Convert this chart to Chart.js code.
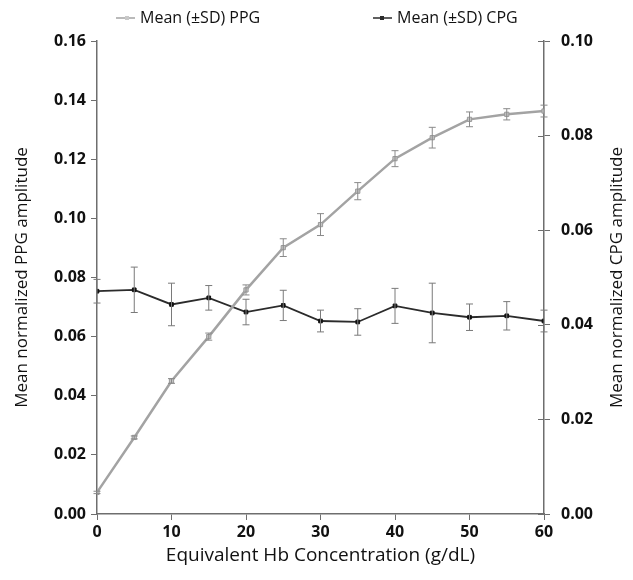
<!DOCTYPE html>
<html>
<head>
<meta charset="utf-8">
<script src="https://cdn.jsdelivr.net/npm/chart.js@4"></script>
<style>
  html, body { margin: 0; padding: 0; background: #fff; }
  #wrap { width: 633px; height: 580px; }
</style>
</head>
<body>
<div id="wrap"><canvas id="c" width="633" height="580"></canvas></div>
<script>
// ---- data ----
const hb = [0, 5, 10, 15, 20, 25, 30, 35, 40, 45, 50, 55, 60];
const ppgMean = [0.0073, 0.0259, 0.0450, 0.0600, 0.0758, 0.0901, 0.0979, 0.1092, 0.1202, 0.1273, 0.1335, 0.1352, 0.1363];
const ppgSd   = [0.0004, 0.0005, 0.0008, 0.0012, 0.0017, 0.0030, 0.0037, 0.0029, 0.0027, 0.0035, 0.0025, 0.0019, 0.0020];
const cpgMean = [0.0471, 0.0474, 0.0443, 0.0457, 0.0427, 0.0441, 0.0408, 0.0406, 0.0440, 0.0425, 0.0416, 0.0419, 0.0408];
const cpgSd   = [0.0025, 0.0048, 0.0045, 0.0026, 0.0027, 0.0032, 0.0023, 0.0028, 0.0037, 0.0063, 0.0028, 0.0030, 0.0023];
const leftTicks = [0, 0.02, 0.04, 0.06, 0.08, 0.10, 0.12, 0.14, 0.16];
const rightTicks = [0, 0.02, 0.04, 0.06, 0.08, 0.10];
const xTicks = [0, 10, 20, 30, 40, 50, 60];
const seriesLabels = ['Mean (\u00B1SD) PPG', 'Mean (\u00B1SD) CPG'];
const axisTitles = { x: 'Equivalent Hb Concentration (g/dL)', y: 'Mean normalized PPG amplitude', y1: 'Mean normalized CPG amplitude' };

const FONT = '"Open Sans", "Noto Sans", sans-serif';
const PPG_COLOR = '#a3a3a3';
const CPG_COLOR = '#2b2b2b';
const AXIS_COLOR = '#6e6e6e';

const errorBars = {
  id: 'errorBars',
  afterDatasetsDraw(chart) {
    const ctx = chart.ctx;
    const sds = [ppgSd, cpgSd];
    const colors = ['#8a8a8a', '#7a7a7a'];
    chart.data.datasets.forEach((ds, i) => {
      const ys = chart.scales[ds.yAxisID];
      const xs = chart.scales.x;
      ctx.save();
      ctx.strokeStyle = colors[i];
      ctx.lineWidth = 1;
      ds.data.forEach((p, j) => {
        const sd = sds[i][j];
        const px = xs.getPixelForValue(p.x);
        const top = ys.getPixelForValue(p.y + sd);
        const bot = ys.getPixelForValue(p.y - sd);
        ctx.beginPath();
        ctx.moveTo(px, top); ctx.lineTo(px, bot);
        ctx.moveTo(px - 3.5, top); ctx.lineTo(px + 3.5, top);
        ctx.moveTo(px - 3.5, bot); ctx.lineTo(px + 3.5, bot);
        ctx.stroke();
      });
      ctx.restore();
    });
  }
};

const extras = {
  id: 'extras',
  afterDraw(chart) {
    const ctx = chart.ctx;
    const r = chart.scales.y1;
    ctx.save();
    ctx.strokeStyle = AXIS_COLOR;
    ctx.lineWidth = 1;
    r.ticks.forEach((t, k) => {
      const y = Math.round(r.getPixelForTick(k)) + 0.5;
      ctx.beginPath();
      ctx.moveTo(r.left - 6, y); ctx.lineTo(r.left, y);
      ctx.stroke();
    });
    ctx.fillStyle = '#111';
    ctx.font = '17px ' + FONT;
    ctx.textAlign = 'center';
    ctx.textBaseline = 'middle';
    ctx.translate(617, (chart.chartArea.top + chart.chartArea.bottom) / 2);
    ctx.rotate(-Math.PI / 2);
    ctx.fillText(axisTitles.y1, 0, 0);
    ctx.restore();

    const items = [
      { x0: 116, x1: 135, mx: 127, tx: 140, color: PPG_COLOR, fill: '#c8c8c8' },
      { x0: 373, x1: 392, mx: 382, tx: 397, color: CPG_COLOR, fill: CPG_COLOR }
    ];
    ctx.save();
    ctx.font = '16px ' + FONT;
    ctx.textBaseline = 'middle';
    ctx.textAlign = 'left';
    items.forEach((it, i) => {
      const y = 18;
      ctx.strokeStyle = it.color;
      ctx.lineWidth = 1.5;
      ctx.beginPath(); ctx.moveTo(it.x0, y); ctx.lineTo(it.x1, y); ctx.stroke();
      ctx.fillStyle = it.fill;
      ctx.fillRect(it.mx - 2, y - 2, 4, 4);
      ctx.fillStyle = '#111';
      ctx.fillText(seriesLabels[i], it.tx, y);
    });
    ctx.restore();
  }
};

new Chart(document.getElementById('c'), {
  type: 'line',
  data: {
    datasets: [
      {
        label: seriesLabels[0],
        data: hb.map((x, i) => ({ x, y: ppgMean[i] })),
        yAxisID: 'y',
        borderColor: PPG_COLOR,
        borderWidth: 2.5,
        pointStyle: 'rect',
        pointRadius: 3,
        pointBackgroundColor: '#c4c4c4',
        pointBorderColor: '#9a9a9a',
        pointBorderWidth: 1,
        tension: 0
      },
      {
        label: seriesLabels[1],
        data: hb.map((x, i) => ({ x, y: cpgMean[i] })),
        yAxisID: 'y1',
        borderColor: CPG_COLOR,
        borderWidth: 1.8,
        pointStyle: 'rect',
        pointRadius: 2.6,
        pointBackgroundColor: '#111',
        pointBorderColor: '#111',
        pointBorderWidth: 1,
        tension: 0
      }
    ]
  },
  options: {
    responsive: false,
    animation: false,
    layout: { padding: { top: 41, left: 0, right: 0, bottom: 0 } },
    plugins: { legend: { display: false }, tooltip: { enabled: false } },
    scales: {
      x: {
        type: 'linear',
        min: 0, max: 60,
        afterBuildTicks: s => { s.ticks = xTicks.map(v => ({ value: v })); },
        afterFit: s => { s.height = 66; },
        grid: { drawOnChartArea: false, drawTicks: true, tickLength: 6, color: AXIS_COLOR, tickWidth: 1 },
        border: { color: AXIS_COLOR, width: 1.5 },
        ticks: { color: '#111', font: { family: FONT, size: 16, weight: 'bold' }, padding: 3 },
        title: { display: true, text: axisTitles.x, color: '#111', font: { family: FONT, size: 19 }, padding: { top: 0, bottom: 13 } }
      },
      y: {
        position: 'left',
        min: 0, max: 0.16,
        afterBuildTicks: s => { s.ticks = leftTicks.map(v => ({ value: v })); },
        afterFit: s => { s.width = 97; },
        grid: { drawOnChartArea: false, tickLength: 6, color: AXIS_COLOR },
        border: { color: AXIS_COLOR, width: 1.5 },
        ticks: { color: '#111', font: { family: FONT, size: 16, weight: 'bold' }, padding: 5, callback: v => v.toFixed(2) },
        title: { display: true, text: axisTitles.y, color: '#111', font: { family: FONT, size: 17 }, padding: { top: 12, bottom: 0 } }
      },
      y1: {
        position: 'right',
        min: 0, max: 0.10,
        afterBuildTicks: s => { s.ticks = rightTicks.map(v => ({ value: v })); },
        afterFit: s => { s.width = 89; },
        grid: { drawOnChartArea: false, tickLength: 6, color: AXIS_COLOR },
        border: { color: AXIS_COLOR, width: 1.5 },
        ticks: { color: '#111', font: { family: FONT, size: 16, weight: 'bold' }, padding: 11, callback: v => v.toFixed(2) },
        title: { display: false }
      }
    }
  },
  plugins: [errorBars, extras]
});
</script>
</body>
</html>
